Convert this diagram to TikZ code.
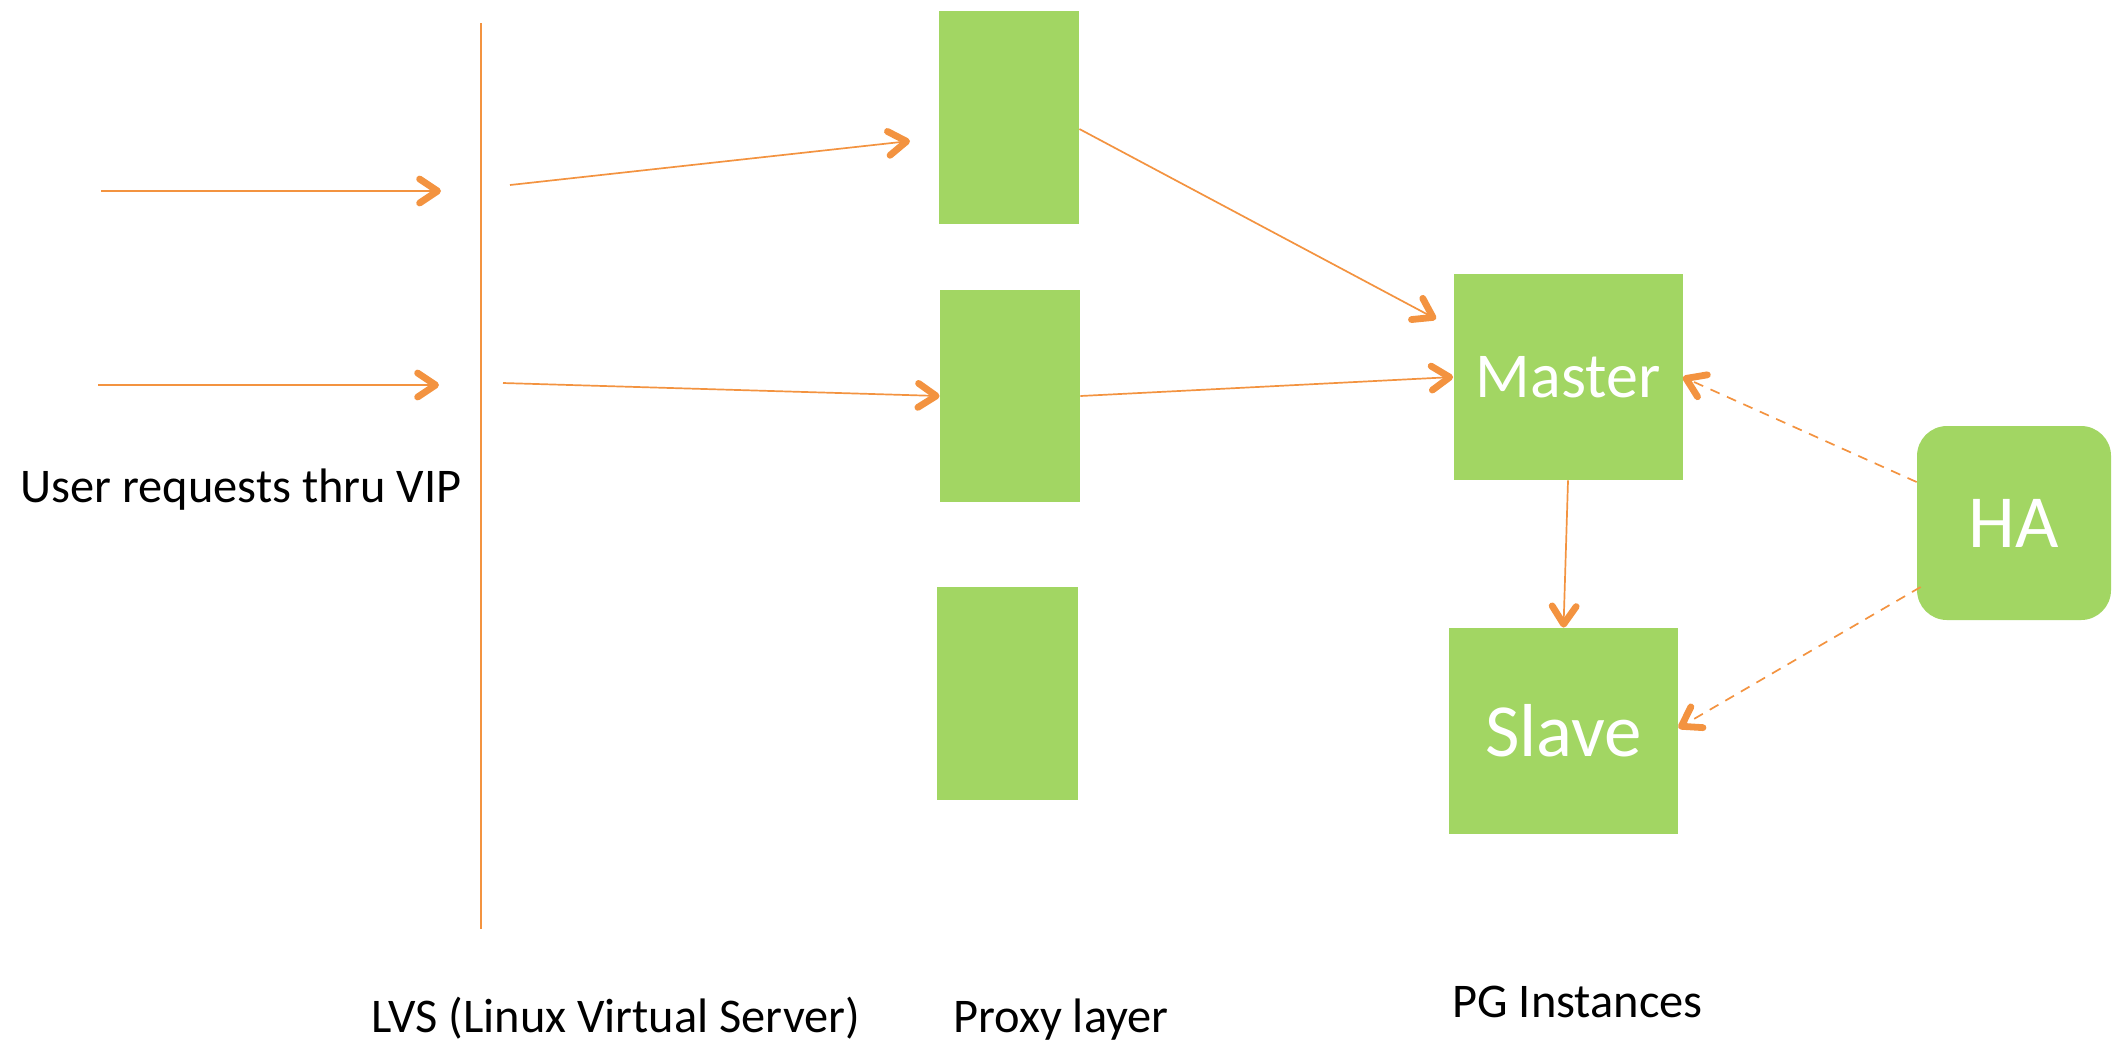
\documentclass[tikz,border=0pt]{standalone}
\usepackage{fontspec}
\setmainfont{Carlito}
\usetikzlibrary{arrows.meta}
\definecolor{boxgreen}{RGB}{162,214,99}
\definecolor{lineorange}{RGB}{243,147,64}
\tikzset{
  box/.style={fill=boxgreen, draw=none, inner sep=0pt, text=white},
  lbl/.style={inner sep=0pt, anchor=base west, font=\fontsize{24.2}{28}\selectfont, text=black},
  tip/.style={-{Straight Barb[length=9pt, width=12pt, line width=3.4pt, round]}},
  conn/.style={draw=lineorange, line width=0.85pt, tip},
  hadash/.style={conn, dash pattern=on 5pt off 4pt},
}
\begin{document}
\begin{tikzpicture}[x=0.5pt, y=-0.5pt]
\useasboundingbox (0,0) rectangle (2112,1041);

% boxes
\node[box, minimum width=70pt, minimum height=106.5pt] (p1) at (1009,117.5) {};
\node[box, minimum width=70pt, minimum height=106pt] (p2) at (1010,396) {};
\node[box, minimum width=70.5pt, minimum height=106.5pt] (p3) at (1007.5,693.5) {};
\node[box, minimum width=114.5pt, minimum height=103pt, font=\fontsize{32}{36}\selectfont] (master) at (1568,377) {Master};
\node[box, minimum width=114.5pt, minimum height=103pt, font=\fontsize{37.5}{42}\selectfont] (slave) at (1563.5,731) {Slave};
\node[box, minimum width=97pt, minimum height=97pt, rounded corners=15pt, font=\fontsize{37.5}{42}\selectfont] (ha) at (2014,523) {HA};

% labels
\node[lbl] (users) at (20,502) {User requests thru VIP};
\node[lbl] (lvslbl) at (371,1032) {LVS (Linux Virtual Server)};
\node[lbl] (proxylbl) at (953,1032) {Proxy layer};
\node[lbl] (pglbl) at (1452,1017) {PG Instances};

% free-end coordinates
\coordinate (in1s) at (101,191);
\coordinate (in1e) at (441,191);
\coordinate (in2s) at (98,385);
\coordinate (in2e) at (439,385);
\coordinate (lvstop) at (481,23);
\coordinate (lvsbot) at (481,929);
\coordinate (a3s) at (510,185);
\coordinate (a3e) at (910,141);
\coordinate (a4s) at (503,383);
\coordinate (a5e) at (1436,319);

% LVS line
\draw[lineorange, line width=0.7pt] (lvstop) -- (lvsbot);

% connectors
\draw[conn] (in1s) -- (in1e);
\draw[conn] (in2s) -- (in2e);
\draw[conn] (a3s) -- (a3e);
\draw[conn] (a4s) -- (p2.west);
\draw[conn] ([yshift=-5.75pt]p1.east) -- (a5e);
\draw[conn] (p2.east) -- (master.west);
\draw[conn] (master.south) -- (slave.north);
\draw[hadash] ([yshift=20.5pt]ha.west) -- (master.east);
\draw[hadash] ([xshift=2pt,yshift=-32pt]ha.west) -- ([yshift=1.5pt]slave.east);
\end{tikzpicture}
\end{document}
